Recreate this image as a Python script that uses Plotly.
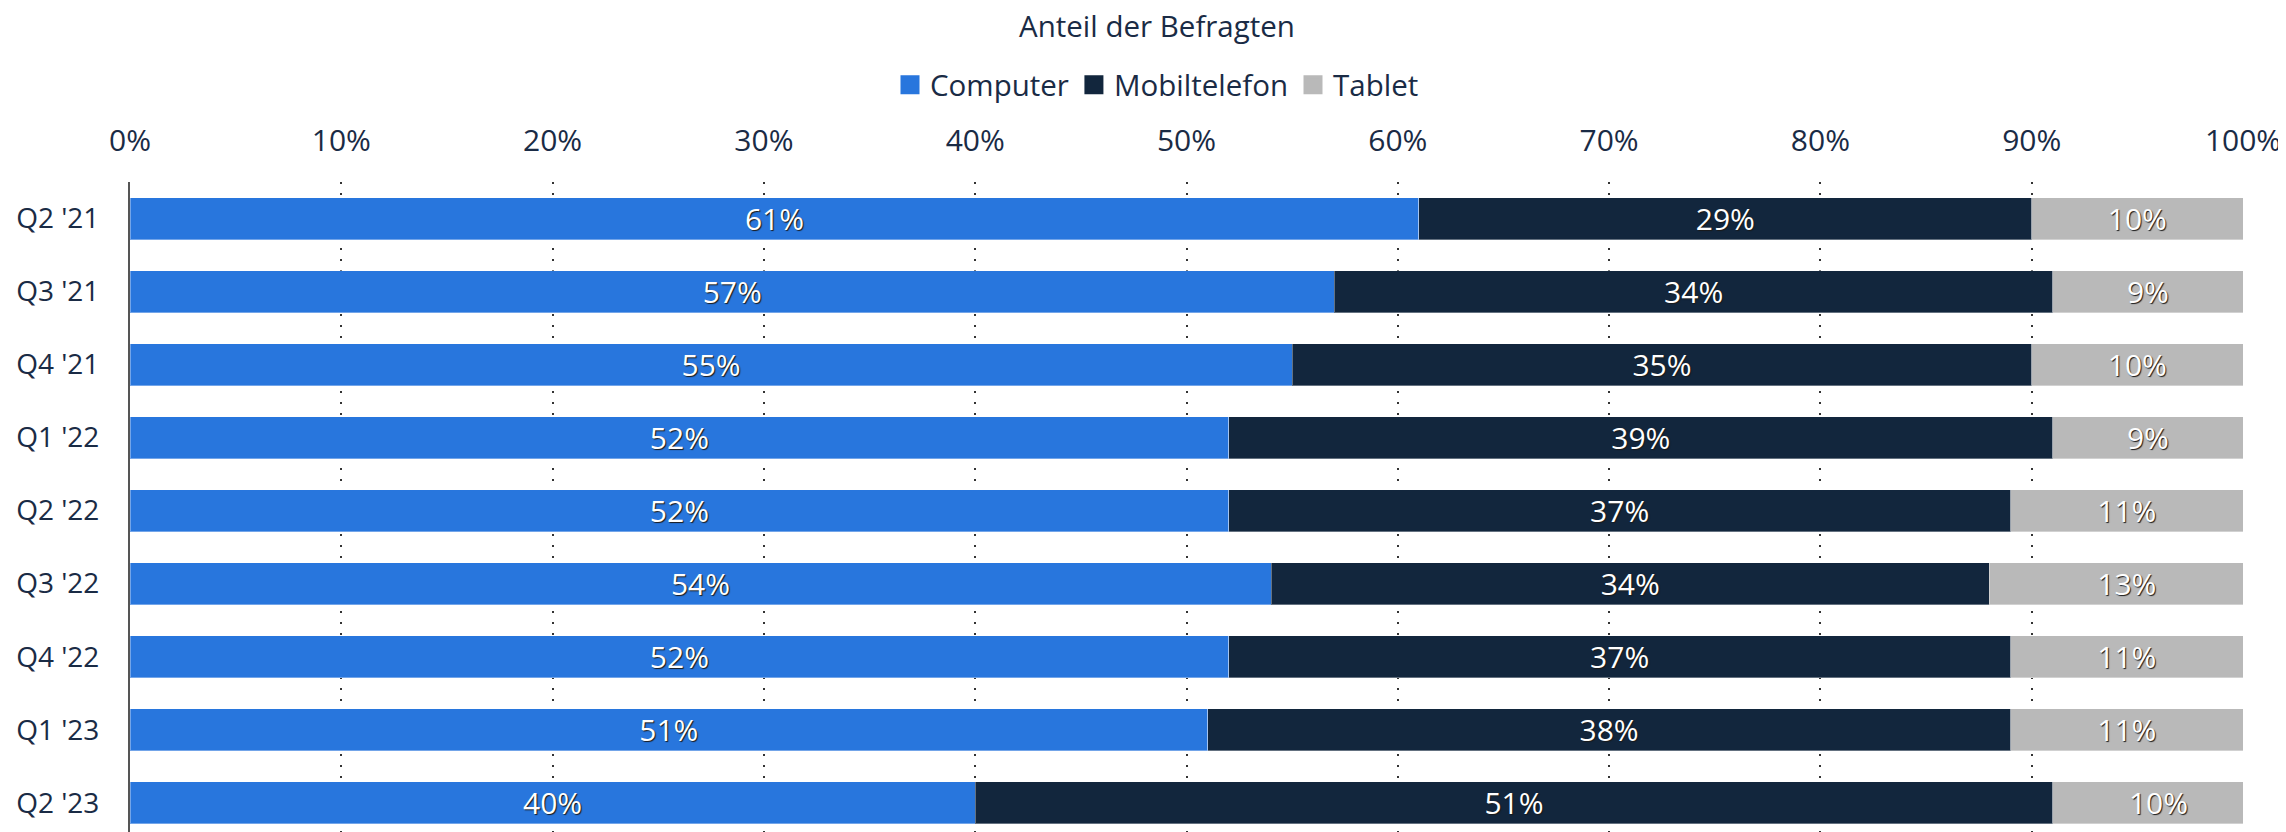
import plotly.graph_objects as go

# Quarters and shares of respondents per device
quarters = ["Q2 '21", "Q3 '21", "Q4 '21", "Q1 '22", "Q2 '22", "Q3 '22", "Q4 '22", "Q1 '23", "Q2 '23"]
computer = [61, 57, 55, 52, 52, 54, 52, 51, 40]
mobil = [29, 34, 35, 39, 37, 34, 37, 38, 51]
tablet = [10, 9, 10, 9, 11, 13, 11, 11, 10]

series = [
    ("Computer", computer, "#2876dd"),
    ("Mobiltelefon", mobil, "#12263d"),
    ("Tablet", tablet, "#b9b9b9"),
]

font_family = "Open Sans"
text_color = "#1a2b45"
center_x = (1157 - 130) / 2113

fig = go.Figure()
for name, vals, color in series:
    fig.add_trace(go.Bar(
        y=quarters, x=vals, name=name, orientation="h", showlegend=False,
        marker=dict(color=color, line=dict(color="rgba(255,255,255,0.35)", width=1)),
        text=[f"{v}%" for v in vals],
        textposition="inside", insidetextanchor="middle",
        textfont=dict(color="white", size=30, family=font_family, shadow="1px 1px 1px #1a1a1a"),
        width=0.575,
    ))
    # legend entry with a bigger square swatch
    fig.add_trace(go.Scatter(
        x=[None], y=[None], mode="markers", name=name,
        marker=dict(symbol="square", size=16, color=color, line=dict(color=color, width=3)),
    ))

fig.update_layout(
    barmode="stack",
    width=2286, height=832,
    margin=dict(l=122, r=51, t=174, b=0),
    plot_bgcolor="white", paper_bgcolor="white",
    font=dict(family=font_family, size=29.5, color=text_color),
    uniformtext=dict(minsize=30, mode="show"),
    showlegend=True,
    title=dict(text="Anteil der Befragten", xref="paper", yref="container",
               x=center_x, xanchor="center", y=1 - 19 / 832, yanchor="middle",
               font=dict(size=29.5, color=text_color)),
    legend=dict(orientation="h", xref="paper", x=center_x, xanchor="center",
                yref="container", y=1 - 77 / 832, yanchor="middle",
                font=dict(size=29.5, color=text_color), traceorder="normal",
                itemwidth=30),
)

fig.update_xaxes(
    side="top", range=[0, 100], tickvals=list(range(0, 101, 10)),
    ticktext=[f"{v}%" for v in range(0, 101, 10)],
    showgrid=True, gridcolor="#333333", gridwidth=2, griddash="2px,9px",
    zeroline=False, ticks="outside", ticklen=18, tickcolor="rgba(0,0,0,0)",
    tickfont=dict(size=30, color=text_color), layer="below traces", automargin=False,
)
fig.update_yaxes(
    range=[8.51, -0.5], showgrid=False, zeroline=False,
    showline=True, linecolor="#555555", linewidth=2,
    ticks="outside", ticklen=23, tickcolor="rgba(0,0,0,0)",
    tickfont=dict(size=28, color=text_color), automargin=False,
)

fig.write_html("out.html")
